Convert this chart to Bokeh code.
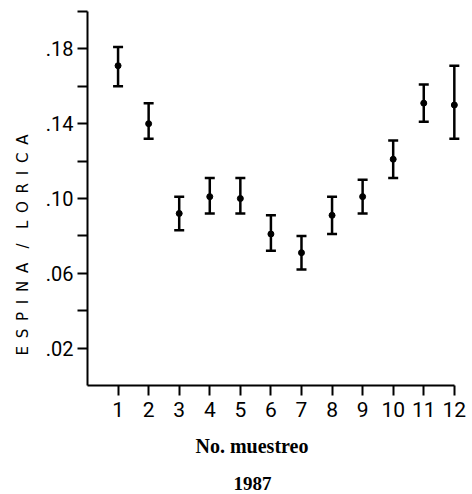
import numpy as np
from bokeh.plotting import figure
from bokeh.models import ColumnDataSource, Whisker, TeeHead, FixedTicker, Range1d, Title
from bokeh.embed import file_html
from bokeh.resources import INLINE

# Data
muestreo = [1, 2, 3, 4, 5, 6, 7, 8, 9, 10, 11, 12]
media = [0.171, 0.140, 0.092, 0.101, 0.100, 0.081, 0.071, 0.091, 0.101, 0.121, 0.151, 0.150]
superior = [0.181, 0.151, 0.101, 0.111, 0.111, 0.091, 0.080, 0.101, 0.110, 0.131, 0.161, 0.171]
inferior = [0.160, 0.132, 0.083, 0.092, 0.092, 0.072, 0.062, 0.081, 0.092, 0.111, 0.141, 0.132]
y_ticks = [0.02, 0.04, 0.06, 0.08, 0.10, 0.12, 0.14, 0.16, 0.18, 0.20]
y_labels = {0.02: ".02", 0.06: ".06", 0.10: ".10", 0.14: ".14", 0.18: ".18"}
x_title = "No. muestreo"
year_title = "1987"
y_title = "ESPINA / LORICA"

src = ColumnDataSource(dict(x=muestreo, y=media, upper=superior, lower=inferior))

p = figure(width=472, height=494, output_backend="svg", toolbar_location=None,
           x_range=Range1d(0, 12.3), y_range=Range1d(0, 0.2),
           min_border_left=87, min_border_right=9, min_border_top=11, min_border_bottom=109)
p.outline_line_color = None
p.grid.visible = False
p.background_fill_color = "white"
p.border_fill_color = "white"

w = Whisker(base="x", upper="upper", lower="lower", source=src,
            line_color="black", line_width=2.5,
            upper_head=TeeHead(size=10, line_width=2.5, line_color="black"),
            lower_head=TeeHead(size=10, line_width=2.5, line_color="black"))
p.add_layout(w)
p.scatter("x", "y", source=src, size=6, color="black")

tick_font = "Roboto"

xa = p.xaxis[0]
xa.ticker = FixedTicker(ticks=muestreo)
xa.bounds = (0, 12)
xa.axis_line_width = 2
xa.major_tick_line_width = 2
xa.major_tick_out = 10
xa.major_tick_in = 0
xa.minor_tick_line_color = None
xa.major_label_text_font = tick_font
xa.major_label_text_font_size = "21px"
xa.major_label_text_color = "black"
xa.major_label_standoff = 6

ya = p.yaxis[0]
ya.ticker = FixedTicker(ticks=y_ticks)
ya.bounds = (0, 0.2)
ya.major_label_overrides = {t: y_labels.get(t, "") for t in y_ticks}
ya.axis_line_width = 2
ya.major_tick_line_width = 2
ya.major_tick_out = 10
ya.major_tick_in = 0
ya.minor_tick_line_color = None
ya.major_label_text_font = tick_font
ya.major_label_text_font_size = "20px"
ya.major_label_text_color = "black"
ya.major_label_standoff = 4

# letter-spaced vertical title (non-breaking + thin spaces keep spacing in SVG)
gap = "\u00a0\u2009"
word1, word2 = y_title.split(" / ")
spaced_y = gap.join(word1) + "\u00a0\u00a0\u00a0/\u00a0\u00a0\u00a0" + gap.join(word2)

p.add_layout(Title(text=x_title, align="left", offset=108, standoff=26,
                   text_font="Liberation Serif", text_font_size="20px",
                   text_font_style="bold", text_color="black"), "below")
p.add_layout(Title(text=year_title, align="left", offset=146, standoff=10,
                   text_font="Liberation Serif", text_font_size="19px",
                   text_font_style="bold", text_color="black"), "below")
p.add_layout(Title(text=spaced_y, align="left", offset=30, standoff=22,
                   text_font="DejaVu Sans", text_font_size="15px",
                   text_font_style="normal", text_color="black"), "left")

open("out.html", "w").write(file_html(p, INLINE))
